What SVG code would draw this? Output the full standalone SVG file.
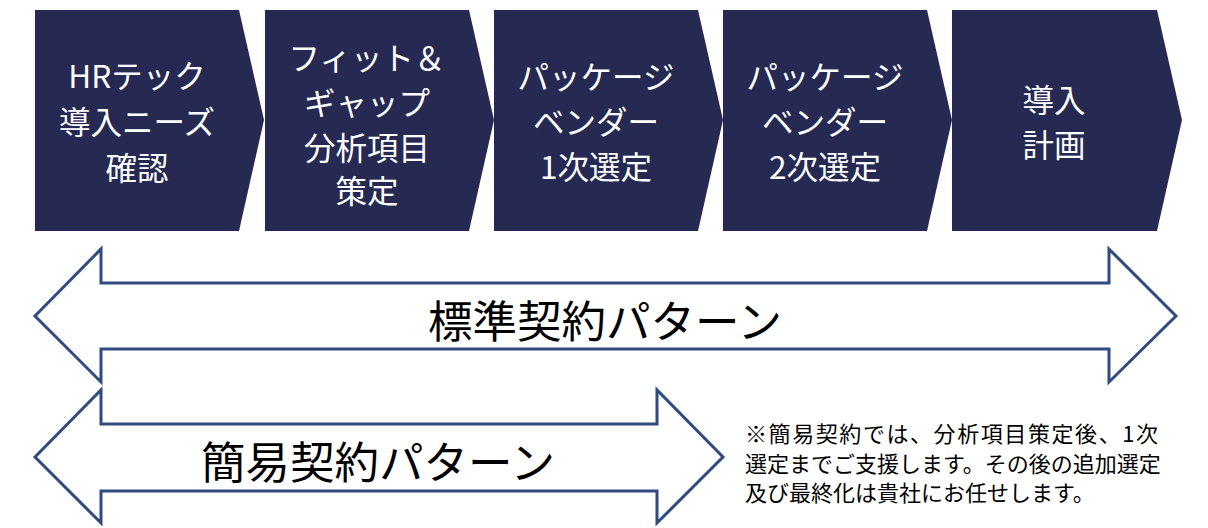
<svg xmlns="http://www.w3.org/2000/svg" width="1208" height="528" viewBox="0 0 1208 528">
<defs>
<style>
.chev{fill:#262952;}
.ct{fill:#ffffff;font-family:"Noto Sans CJK JP","Noto Sans",sans-serif;font-size:31.5px;text-anchor:middle;dominant-baseline:central;}
.arr{fill:#ffffff;stroke:#2F4B80;stroke-width:3;stroke-linejoin:miter;}
.al{fill:#000000;font-family:"Noto Sans CJK JP",sans-serif;font-size:44.5px;text-anchor:middle;dominant-baseline:central;}
.nt{fill:#000000;font-family:"Noto Sans CJK JP",sans-serif;font-size:22px;dominant-baseline:central;}
</style>
</defs>
<rect width="1208" height="528" fill="#ffffff"/>
<g id="step1">
<polygon class="chev" points="35,10 239,10 264,120 239,231 35,231"/>
<text class="ct" x="137" y="74">HRテック</text>
<text class="ct" x="137" y="120">導入ニーズ</text>
<text class="ct" x="137" y="166">確認</text>
</g>
<g id="step2">
<polygon class="chev" points="265,10 469,10 494,120 469,231 265,231"/>
<text class="ct" x="367" y="56">フィット＆</text>
<text class="ct" x="367" y="101">ギャップ</text>
<text class="ct" x="367" y="146">分析項目</text>
<text class="ct" x="367" y="189">策定</text>
</g>
<g id="step3">
<polygon class="chev" points="494,10 698,10 723,120 698,231 494,231"/>
<text class="ct" x="596" y="75">パッケージ</text>
<text class="ct" x="596" y="120">ベンダー</text>
<text class="ct" x="596" y="165">1次選定</text>
</g>
<g id="step4">
<polygon class="chev" points="723,10 927,10 952,120 927,231 723,231"/>
<text class="ct" x="825" y="75">パッケージ</text>
<text class="ct" x="825" y="120">ベンダー</text>
<text class="ct" x="825" y="165">2次選定</text>
</g>
<g id="step5">
<polygon class="chev" points="952,10 1157,10 1182,120 1157,231 952,231"/>
<text class="ct" x="1054" y="98">導入</text>
<text class="ct" x="1054" y="143">計画</text>
</g>
<g id="connectors">
<g id="standard">
<polygon class="arr" points="35,316 101,249 101,283 1109,283 1109,249 1176,316 1109,382 1109,349 101,349 101,382"/>
<text class="al" x="605" y="318">標準契約パターン</text>
</g>
<g id="simple">
<polygon class="arr" points="35,457 101,390 101,424 657,424 657,390 723,457 657,523 657,491 101,491 101,523"/>
<text class="al" x="378" y="459">簡易契約パターン</text>
</g>
</g>
<g id="note">
<text class="nt" x="745" y="432" textLength="413" lengthAdjust="spacing">※簡易契約では、分析項目策定後、1次</text>
<text class="nt" x="745" y="462">選定までご支援します。その後の追加選定</text>
<text class="nt" x="745" y="491">及び最終化は貴社にお任せします。</text>
</g>
</svg>
